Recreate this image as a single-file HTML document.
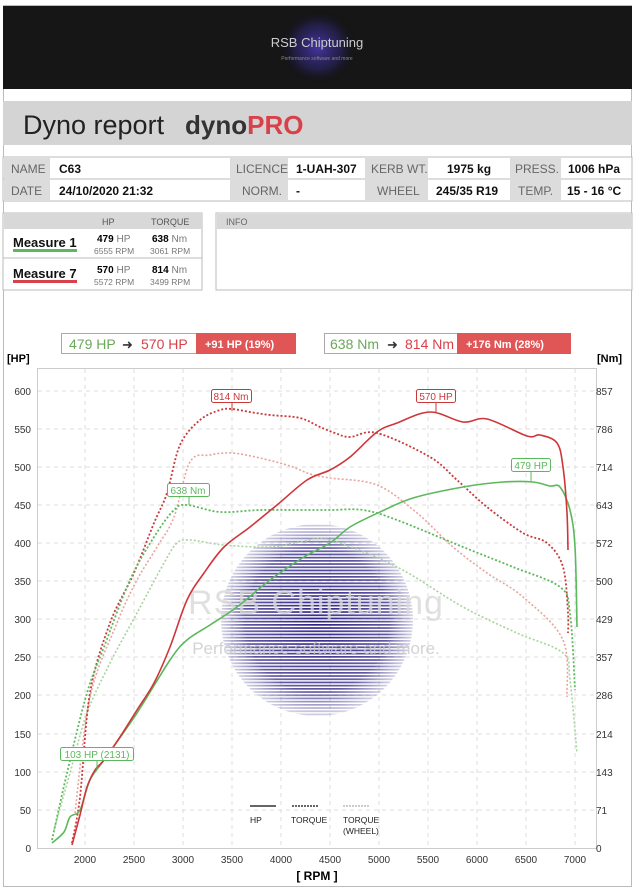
<!DOCTYPE html>
<html><head><meta charset="utf-8"><style>
body{margin:0;background:#fff;width:635px;height:888px;overflow:hidden;font-family:"Liberation Sans",sans-serif;}
</style></head><body>
<svg width="635" height="888" viewBox="0 0 635 888" xmlns="http://www.w3.org/2000/svg" font-family="Liberation Sans, sans-serif">
<defs>
<radialGradient id="hg" cx="50%" cy="50%" r="50%"><stop offset="0" stop-color="#4a3ab0" stop-opacity="0.9"/><stop offset="0.6" stop-color="#3a2d9a" stop-opacity="0.35"/><stop offset="1" stop-color="#000" stop-opacity="0"/></radialGradient>
<radialGradient id="wg" cx="50%" cy="50%" r="50%"><stop offset="0" stop-color="#2c1f86" stop-opacity="1"/><stop offset="0.75" stop-color="#3a2f8c" stop-opacity="0.8"/><stop offset="1" stop-color="#6a64a8" stop-opacity="0.3"/></radialGradient>
<pattern id="st" width="6" height="3.2" patternUnits="userSpaceOnUse"><rect width="6" height="1.7" fill="#fff"/></pattern>
<mask id="sm"><rect x="0" y="0" width="635" height="888" fill="url(#st)"/></mask>
</defs>
<rect x="3.5" y="5.5" width="628" height="881" fill="none" stroke="#bbb"/>
<rect x="3" y="6" width="629" height="83" fill="#161616"/>
<ellipse cx="318" cy="47" rx="40" ry="38" fill="url(#hg)"/>
<text x="317" y="47" font-size="13" fill="#ccc" text-anchor="middle">RSB Chiptuning</text>
<text x="317" y="60" font-size="5" fill="#888" text-anchor="middle">Performance software and more</text>
<rect x="3" y="101" width="629" height="44" fill="#d4d4d4"/>
<text x="23" y="134" font-size="27" fill="#222">Dyno report</text>
<text x="185" y="134" font-size="26" font-weight="bold" fill="#333">dyno<tspan fill="#d9414a">PRO</tspan></text>
<g font-size="12">
<rect x="3" y="157" width="629" height="44" fill="#fff" stroke="#bbb"/>
<line x1="3" y1="179" x2="632" y2="179" stroke="#bbb"/>
<rect x="4" y="158" width="46" height="42" fill="#dcdcdc"/>
<rect x="230" y="158" width="58" height="42" fill="#dcdcdc"/>
<rect x="365" y="158" width="63" height="42" fill="#dcdcdc"/>
<rect x="510" y="158" width="51" height="42" fill="#dcdcdc"/>
<g fill="#666"><text x="11" y="173">NAME</text><text x="11" y="195">DATE</text>
<text x="236" y="173">LICENCE</text><text x="242" y="195">NORM.</text>
<text x="371" y="173">KERB WT.</text><text x="377" y="195">WHEEL</text>
<text x="515" y="173">PRESS.</text><text x="518" y="195">TEMP.</text></g>
<g fill="#111" font-weight="bold"><text x="59" y="173">C63</text><text x="59" y="195">24/10/2020 21:32</text>
<text x="296" y="173">1-UAH-307</text><text x="296" y="195">-</text>
<text x="447" y="173">1975 kg</text><text x="436" y="195">245/35 R19</text>
<text x="568" y="173">1006 hPa</text><text x="567" y="195">15 - 16 °C</text></g>
</g>
<rect x="3" y="213" width="199" height="77" fill="#fff" stroke="#bbb"/>
<rect x="4" y="213" width="198" height="16" fill="#d8d8d8"/>
<line x1="3" y1="258" x2="202" y2="258" stroke="#bbb"/>
<g font-size="9" fill="#555"><text x="102" y="225">HP</text><text x="151" y="225">TORQUE</text></g>
<g font-size="13" font-weight="bold" fill="#111"><text x="13" y="247">Measure 1</text><text x="13" y="278">Measure 7</text></g>
<rect x="13" y="249" width="64" height="3" fill="#5cb85c"/>
<rect x="13" y="280" width="64" height="3" fill="#d9414a"/>
<g font-size="10"><text x="97" y="242" font-weight="bold">479 <tspan font-weight="normal" fill="#777">HP</tspan></text>
<text x="152" y="242" font-weight="bold">638 <tspan font-weight="normal" fill="#777">Nm</tspan></text>
<text x="97" y="273" font-weight="bold">570 <tspan font-weight="normal" fill="#777">HP</tspan></text>
<text x="152" y="273" font-weight="bold">814 <tspan font-weight="normal" fill="#777">Nm</tspan></text></g>
<g font-size="8.5" fill="#777"><text x="94" y="254">6555 RPM</text><text x="150" y="254">3061 RPM</text>
<text x="94" y="285">5572 RPM</text><text x="150" y="285">3499 RPM</text></g>
<rect x="216" y="213" width="416" height="77" fill="#fff" stroke="#bbb"/>
<rect x="217" y="214" width="415" height="15" fill="#d8d8d8"/>
<text x="226" y="225" font-size="9" fill="#666">INFO</text>
<rect x="61.5" y="333.5" width="234" height="20" fill="#fff" stroke="#aaa"/>
<rect x="196" y="333" width="100" height="21" fill="#e05555"/>
<text x="69" y="349" font-size="14" fill="#6aa85a">479 HP</text>
<text x="122" y="349" font-size="13" fill="#333">➜</text>
<text x="141" y="349" font-size="14" fill="#d9414a">570 HP</text>
<text x="205" y="348" font-size="11" font-weight="bold" fill="#fff">+91 HP  (19%)</text>
<rect x="324.5" y="333.5" width="246" height="20" fill="#fff" stroke="#aaa"/>
<rect x="457" y="333" width="114" height="21" fill="#e05555"/>
<text x="330" y="349" font-size="14" fill="#6aa85a">638 Nm</text>
<text x="387" y="349" font-size="13" fill="#333">➜</text>
<text x="405" y="349" font-size="14" fill="#d9414a">814 Nm</text>
<text x="466" y="348" font-size="11" font-weight="bold" fill="#fff">+176 Nm  (28%)</text>
<text x="7" y="362" font-size="11" font-weight="bold">[HP]</text>
<text x="597" y="362" font-size="11" font-weight="bold">[Nm]</text>
<rect x="37.5" y="368.5" width="559" height="480" fill="none" stroke="#ccc"/>
<g stroke="#ddd" stroke-dasharray="4,4">
<line x1="38" y1="391" x2="596" y2="391"/><line x1="38" y1="429" x2="596" y2="429"/><line x1="38" y1="467" x2="596" y2="467"/><line x1="38" y1="505" x2="596" y2="505"/><line x1="38" y1="543" x2="596" y2="543"/><line x1="38" y1="581" x2="596" y2="581"/><line x1="38" y1="619" x2="596" y2="619"/><line x1="38" y1="657" x2="596" y2="657"/><line x1="38" y1="695" x2="596" y2="695"/><line x1="38" y1="734" x2="596" y2="734"/><line x1="38" y1="772" x2="596" y2="772"/><line x1="38" y1="810" x2="596" y2="810"/>
<line x1="85" y1="369" x2="85" y2="848"/><line x1="134" y1="369" x2="134" y2="848"/><line x1="183" y1="369" x2="183" y2="848"/><line x1="232" y1="369" x2="232" y2="848"/><line x1="281" y1="369" x2="281" y2="848"/><line x1="330" y1="369" x2="330" y2="848"/><line x1="379" y1="369" x2="379" y2="848"/><line x1="428" y1="369" x2="428" y2="848"/><line x1="477" y1="369" x2="477" y2="848"/><line x1="526" y1="369" x2="526" y2="848"/><line x1="575" y1="369" x2="575" y2="848"/>
</g>
<g font-size="10" fill="#333" text-anchor="end">
<text x="31" y="395">600</text><text x="31" y="433">550</text><text x="31" y="471">500</text><text x="31" y="509">450</text><text x="31" y="547">400</text><text x="31" y="585">350</text><text x="31" y="623">300</text><text x="31" y="661">250</text><text x="31" y="699">200</text><text x="31" y="738">150</text><text x="31" y="776">100</text><text x="31" y="814">50</text><text x="31" y="852">0</text></g>
<g font-size="10" fill="#333">
<text x="596" y="395">857</text><text x="596" y="433">786</text><text x="596" y="471">714</text><text x="596" y="509">643</text><text x="596" y="547">572</text><text x="596" y="585">500</text><text x="596" y="623">429</text><text x="596" y="661">357</text><text x="596" y="699">286</text><text x="596" y="738">214</text><text x="596" y="776">143</text><text x="596" y="814">71</text><text x="596" y="852">0</text></g>
<g font-size="10" fill="#333" text-anchor="middle">
<text x="85" y="863">2000</text><text x="134" y="863">2500</text><text x="183" y="863">3000</text><text x="232" y="863">3500</text><text x="281" y="863">4000</text><text x="330" y="863">4500</text><text x="379" y="863">5000</text><text x="428" y="863">5500</text><text x="477" y="863">6000</text><text x="526" y="863">6500</text><text x="575" y="863">7000</text></g>
<text x="317" y="880" font-size="12" font-weight="bold" text-anchor="middle">[ RPM ]</text>
<circle cx="317" cy="620" r="96" fill="url(#wg)" mask="url(#sm)"/>
<text x="316" y="614" font-size="34" fill="#d8d8d8" fill-opacity="0.8" text-anchor="middle" letter-spacing="1">RSB Chiptuning</text>
<text x="316" y="654" font-size="17" fill="#c8c8c8" fill-opacity="0.8" text-anchor="middle">Performance software and more.</text>
<g fill="none" stroke-linejoin="round" stroke-linecap="butt">
<path id="rw" stroke="#e8a49c" stroke-width="1.6" stroke-dasharray="2,2"/>
<path id="gw" stroke="#a6d49a" stroke-width="1.6" stroke-dasharray="2,2"/>
<path id="rt" stroke="#c83a3a" stroke-width="1.8" stroke-dasharray="2,2"/>
<path id="gt" stroke="#5cb85c" stroke-width="1.8" stroke-dasharray="2,2"/>
<path id="gh" stroke="#5cb85c" stroke-width="1.6"/>
<path id="rh" stroke="#d0353a" stroke-width="1.6"/>
</g>
<g font-size="10">
<line x1="232" y1="402" x2="232" y2="411" stroke="#c83a3a"/>
<rect x="211.5" y="389.5" width="40" height="13" rx="2" fill="#fff" stroke="#c83a3a"/><text x="231" y="400" fill="#c83a3a" text-anchor="middle">814 Nm</text>
<line x1="436" y1="403" x2="436" y2="412" stroke="#c83a3a"/>
<rect x="416.5" y="389.5" width="39" height="13" rx="2" fill="#fff" stroke="#c83a3a"/><text x="436" y="400" fill="#c83a3a" text-anchor="middle">570 HP</text>
<line x1="531" y1="472" x2="531" y2="481" stroke="#5cb85c"/>
<rect x="511.5" y="458.5" width="39" height="13" rx="2" fill="#fff" stroke="#5cb85c"/><text x="531" y="469" fill="#5cb85c" text-anchor="middle">479 HP</text>
<line x1="189" y1="497" x2="189" y2="505" stroke="#5cb85c"/>
<rect x="167.5" y="483.5" width="42" height="13" rx="2" fill="#fff" stroke="#5cb85c"/><text x="188" y="494" fill="#5cb85c" text-anchor="middle">638 Nm</text>
<line x1="97" y1="761" x2="97" y2="770" stroke="#5cb85c"/>
<rect x="60.5" y="747.5" width="73" height="13" rx="2" fill="#fff" stroke="#5cb85c"/><text x="97" y="758" fill="#5cb85c" text-anchor="middle">103 HP (2131)</text>
</g>
<line x1="250" y1="806" x2="276" y2="806" stroke="#333" stroke-width="1.5"/>
<line x1="292" y1="806" x2="318" y2="806" stroke="#333" stroke-width="1.5" stroke-dasharray="2,1"/>
<line x1="343" y1="806" x2="369" y2="806" stroke="#999" stroke-width="1" stroke-dasharray="2,1"/>
<g font-size="8.5" fill="#222"><text x="250" y="823">HP</text><text x="291" y="823">TORQUE</text><text x="343" y="823">TORQUE</text><text x="343" y="834">(WHEEL)</text></g>
</svg>
<script>
var D={
rh:[[72,845],[80,815],[87,787],[95,770],[104,760],[120,737],[137,710],[154,683],[170,647],[187,600],[204,573],[224,547],[250,527],[277,505],[307,480],[330,470],[350,457],[377,432],[397,423],[430,412],[463,422],[487,419],[527,436],[540,435],[557,443],[563,467],[567,513],[568,550]],
gh:[[52,843],[64,832],[70,817],[80,810],[90,780],[104,760],[137,713],[170,660],[187,640],[210,625],[237,607],[270,580],[304,557],[330,543],[350,527],[380,512],[413,498],[463,487],[503,482],[533,482],[550,486],[560,487],[570,510],[575,547],[577,627]],
rt:[[72,843],[80,797],[90,693],[110,623],[134,573],[154,523],[167,493],[180,445],[200,420],[220,410],[232,409],[250,412],[270,415],[300,418],[320,427],[335,433],[350,437],[377,433],[430,457],[457,480],[487,507],[523,533],[547,543],[563,567],[568,613],[568,633]],
rw:[[75,813],[90,697],[117,623],[137,580],[157,547],[174,517],[190,462],[210,455],[232,453],[260,458],[290,466],[310,474],[330,478],[377,485],[417,513],[453,547],[487,573],[523,597],[563,640],[567,697]],
gt:[[52,840],[67,773],[87,693],[104,647],[130,580],[154,537],[174,510],[187,505],[220,512],[260,510],[300,510],[330,510],[363,510],[397,520],[463,547],[513,567],[560,587],[570,613],[575,690]],
gw:[[54,830],[70,773],[87,713],[110,663],[137,613],[164,563],[177,543],[190,540],[224,545],[270,547],[300,542],[330,540],[397,567],[463,607],[517,633],[563,653],[570,680],[577,753]]};
function cr(p){var s="M"+p[0][0]+","+p[0][1];for(var i=0;i<p.length-1;i++){var a=p[i-1]||p[i],b=p[i],c=p[i+1],d=p[i+2]||c;
var c1=[b[0]+(c[0]-a[0])/6,b[1]+(c[1]-a[1])/6],c2=[c[0]-(d[0]-b[0])/6,c[1]-(d[1]-b[1])/6];
s+=" C"+c1[0].toFixed(1)+","+c1[1].toFixed(1)+" "+c2[0].toFixed(1)+","+c2[1].toFixed(1)+" "+c[0]+","+c[1];}return s;}
for(var k in D)document.getElementById(k).setAttribute("d",cr(D[k]));
</script>
</body></html>
